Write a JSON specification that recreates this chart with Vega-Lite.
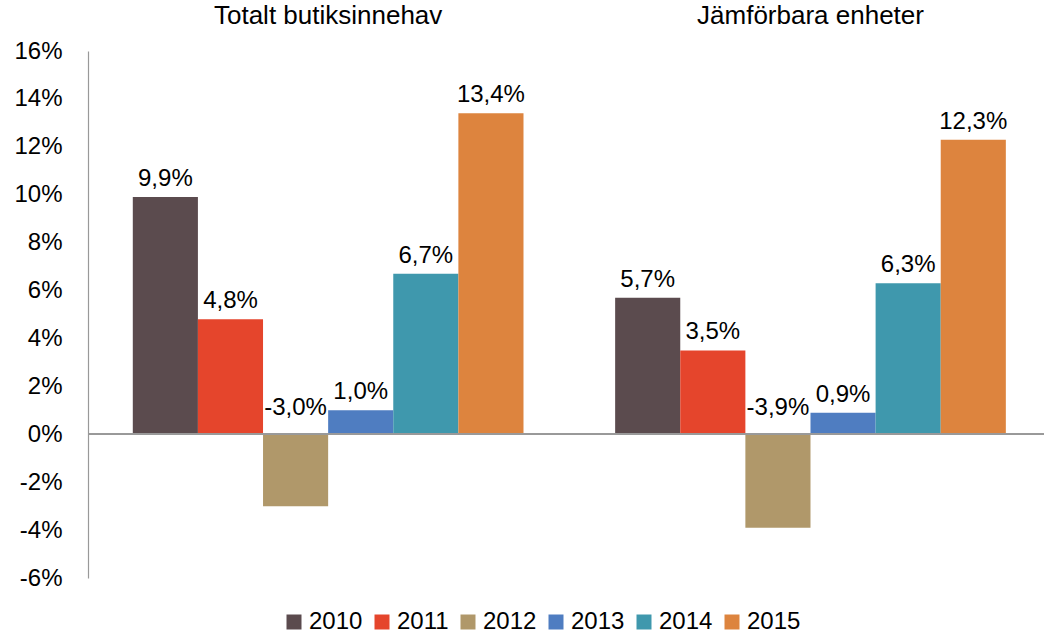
{
  "$schema": "https://vega.github.io/schema/vega-lite/v6.json",
  "width": 956,
  "height": 527,
  "autosize": "none",
  "padding": {"left": 88, "top": 51, "right": 0, "bottom": 56},
  "background": "white",
  "config": {
    "locale": {"number": {"decimal": ",", "thousands": " ", "grouping": [3], "currency": ["", " kr"], "minus": "-"}},
    "font": "Liberation Sans",
    "view": {"stroke": null}
  },
  "data": {
    "values": [
      {"grupp": "Totalt butiksinnehav", "ar": "2010", "varde": 0.099},
      {"grupp": "Totalt butiksinnehav", "ar": "2011", "varde": 0.048},
      {"grupp": "Totalt butiksinnehav", "ar": "2012", "varde": -0.030},
      {"grupp": "Totalt butiksinnehav", "ar": "2013", "varde": 0.010},
      {"grupp": "Totalt butiksinnehav", "ar": "2014", "varde": 0.067},
      {"grupp": "Totalt butiksinnehav", "ar": "2015", "varde": 0.134},
      {"grupp": "Jämförbara enheter", "ar": "2010", "varde": 0.057},
      {"grupp": "Jämförbara enheter", "ar": "2011", "varde": 0.035},
      {"grupp": "Jämförbara enheter", "ar": "2012", "varde": -0.039},
      {"grupp": "Jämförbara enheter", "ar": "2013", "varde": 0.009},
      {"grupp": "Jämförbara enheter", "ar": "2014", "varde": 0.063},
      {"grupp": "Jämförbara enheter", "ar": "2015", "varde": 0.123}
    ]
  },
  "encoding": {
    "x": {
      "field": "grupp", "type": "nominal",
      "sort": ["Totalt butiksinnehav", "Jämförbara enheter"],
      "scale": {"paddingInner": 0.19, "paddingOuter": 0.086, "align": 0.54},
      "axis": {"orient": "top", "title": null, "domain": false, "ticks": false, "labelAngle": 0, "labelLimit": 0,
               "labelFontSize": 26, "labelColor": "black", "labelPadding": 23, "labelFont": "Liberation Sans"}
    },
    "xOffset": {"field": "ar", "type": "nominal", "scale": {"paddingInner": 0, "paddingOuter": 0}}
  },
  "layer": [
    {
      "mark": {"type": "bar"},
      "encoding": {
        "y": {
          "field": "varde", "type": "quantitative",
          "scale": {"domain": [-0.06, 0.16], "nice": false, "zero": false},
          "axis": {"title": null, "format": ".0%", "values": [-0.06, -0.04, -0.02, 0, 0.02, 0.04, 0.06, 0.08, 0.1, 0.12, 0.14, 0.16],
                   "grid": false, "ticks": false, "domainColor": "#999999", "domainWidth": 1.2,
                   "labelFontSize": 24, "labelColor": "black", "labelPadding": 26, "labelFont": "Liberation Sans"}
        },
        "color": {
          "field": "ar", "type": "nominal",
          "scale": {"domain": ["2010", "2011", "2012", "2013", "2014", "2015"],
                    "range": ["#5B4B4E", "#E5452C", "#B0986A", "#4F7DC1", "#3F98AD", "#DD843E"]},
          "legend": {"orient": "none", "legendX": 194, "legendY": 559, "direction": "horizontal", "title": null,
                     "symbolType": "square", "symbolSize": 225, "symbolStrokeWidth": 0, "symbolOpacity": 1,
                     "labelFontSize": 24, "labelColor": "black", "labelOffset": 3, "columnPadding": 7,
                     "labelFont": "Liberation Sans"}
        }
      }
    },
    {
      "mark": {"type": "rule", "color": "#999999", "strokeWidth": 1.5},
      "encoding": {"y": {"datum": 0}, "x": null, "xOffset": null}
    },
    {
      "transform": [{"filter": "datum.varde >= 0"}],
      "mark": {"type": "text", "fontSize": 24, "color": "black", "baseline": "alphabetic", "dy": -11, "font": "Liberation Sans"},
      "encoding": {
        "y": {"field": "varde", "type": "quantitative"},
        "text": {"field": "varde", "type": "quantitative", "format": ".1%"}
      }
    },
    {
      "transform": [{"filter": "datum.varde < 0"}],
      "mark": {"type": "text", "fontSize": 24, "color": "black", "baseline": "alphabetic", "dy": -19, "font": "Liberation Sans"},
      "encoding": {
        "y": {"datum": 0},
        "text": {"field": "varde", "type": "quantitative", "format": ".1%"}
      }
    }
  ]
}
